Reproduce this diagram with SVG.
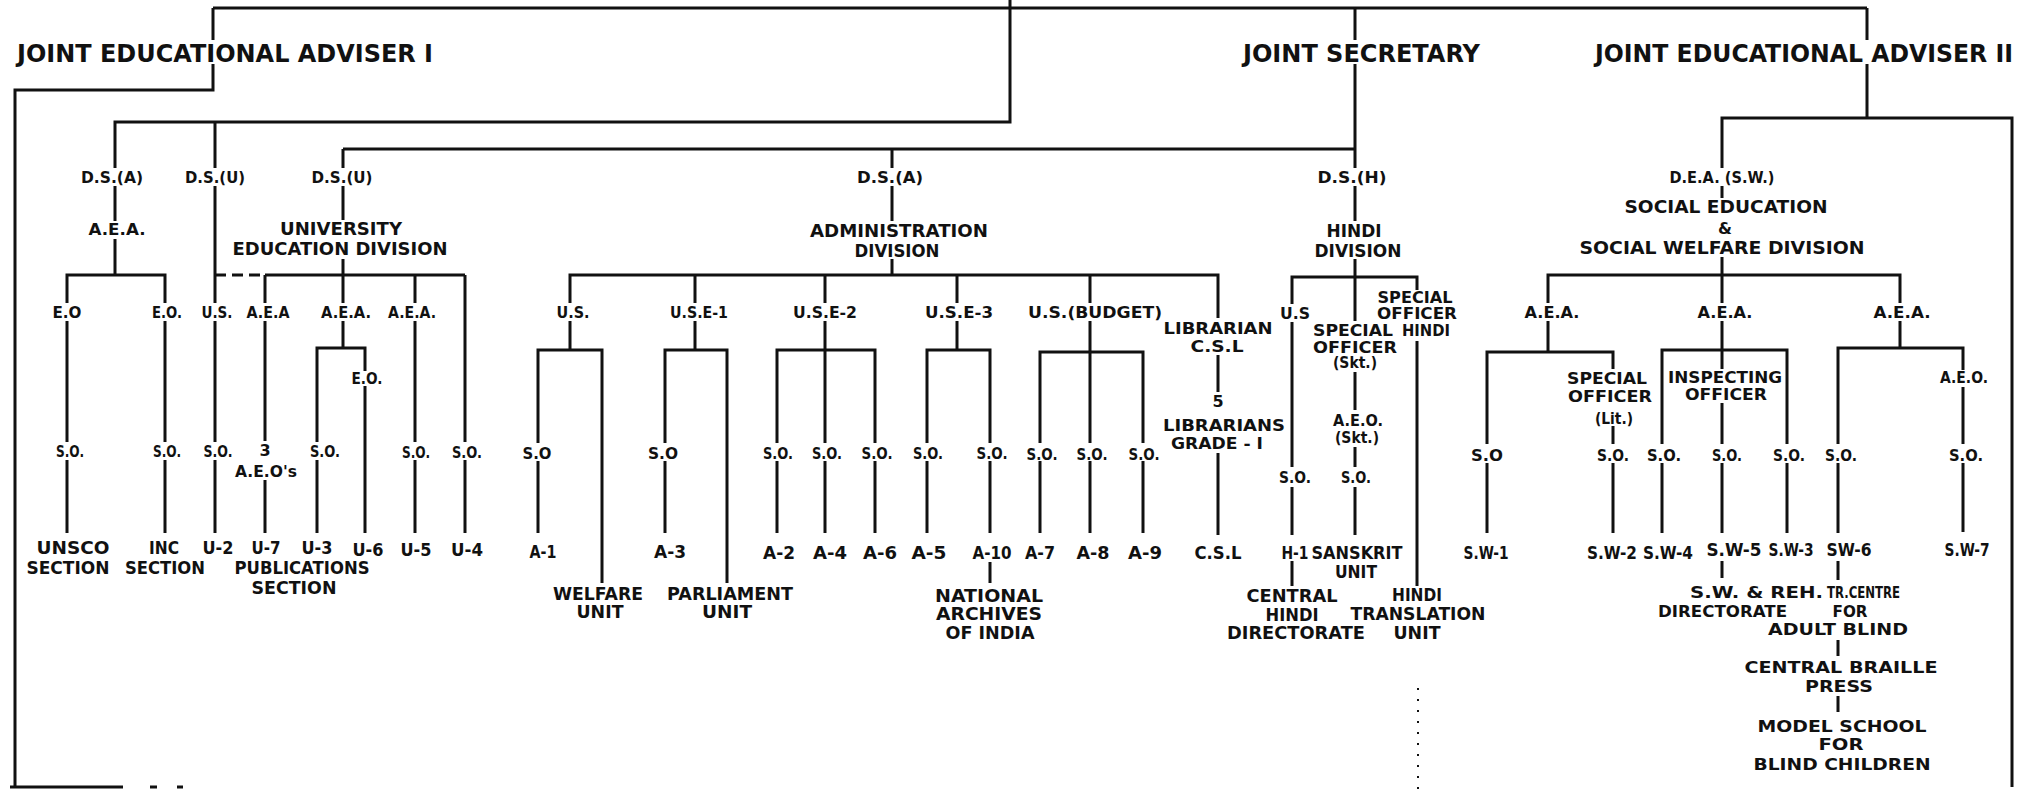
<svg xmlns="http://www.w3.org/2000/svg" width="2037" height="791" viewBox="0 0 2037 791">
<style>
.c{stroke:#111;stroke-width:3;fill:none;stroke-linejoin:miter}
.d{stroke:#111;stroke-width:3;fill:none;stroke-dasharray:11 6}
.dt{stroke:#111;stroke-width:2;fill:none;stroke-dasharray:2 9}
text{font-family:"DejaVu Sans","Liberation Sans",sans-serif;font-weight:bold;fill:#111;text-anchor:middle}
.h{font-size:25px;text-anchor:start}
.m{font-size:16px}
.b{font-size:17px}
.st{text-anchor:start}
</style>
<rect width="2037" height="791" fill="#fff"/>
<g id="connectors">
<path class="c" d="M213 8 H1867 M213 8 V40 M213 64 V90 H15 V787"/>
<path class="c" d="M1010 0 V122 H115 V168 M215 122 V168"/>
<path class="c" d="M1355 8 V40 M1355 64 V168 M343 149 H1355 M343 149 V168 M892 149 V168"/>
<path class="c" d="M1867 8 V40 M1867 64 V118 H1722 V168 M1867 118 H2012 V787"/>
<path class="c" d="M115 186 V221 M115 239 V275 M67 303 V275 H165 V303 M67 321 V442 M67 460 V533 M165 321 V442 M165 460 V533"/>
<path class="c" d="M215 186 V303 M215 321 V442 M215 460 V533"/>
<path class="d" d="M215 275 H265"/>
<path class="c" d="M343 186 V220 M343 259 V303 M265 275 H465 M265 275 V303 M265 321 V441 M265 480 V533 M343 321 V348 H317 V442 M343 348 H365 V371 M365 386 V533 M317 460 V533 M415 275 V303 M415 321 V442 M415 460 V533 M465 275 V442 M465 460 V533"/>
<path class="c" d="M892 186 V221 M892 259 V275 M570 303 V275 H1218 V318"/>
<path class="c" d="M570 321 V350 M538 443 V350 H602 V583 M538 461 V533"/>
<path class="c" d="M695 275 V303 M695 321 V350 M665 443 V350 H727 V583 M665 461 V533"/>
<path class="c" d="M825 275 V303 M825 321 V443 M777 443 V350 H875 V443 M777 461 V533 M825 461 V533 M875 461 V533"/>
<path class="c" d="M957 275 V303 M957 321 V350 M927 443 V350 H990 V443 M927 461 V533 M990 461 V533 M990 562 V583"/>
<path class="c" d="M1090 275 V303 M1090 321 V443 M1040 443 V352 H1143 V443 M1040 461 V533 M1090 461 V533 M1143 461 V533"/>
<path class="c" d="M1218 355 V392 M1218 453 V535"/>
<path class="c" d="M1355 186 V221 M1355 259 V321 M1292 304 V277 H1417 V290 M1292 322 V467 M1292 487 V535 M1292 561 V586 M1355 372 V410 M1355 447 V467 M1355 487 V535 M1417 341 V586"/>
<path class="dt" d="M1418 688 V791"/>
<path class="c" d="M1722 186 V198 M1722 257 V303 M1548 303 V275 H1900 V303"/>
<path class="c" d="M1548 321 V352 M1487 444 V352 H1613 V369 M1487 463 V533 M1613 426 V444 M1613 463 V533"/>
<path class="c" d="M1722 321 V369 M1662 444 V350 H1787 V444 M1722 403 V444 M1662 463 V533 M1722 463 V533 M1787 463 V533 M1722 561 V578"/>
<path class="c" d="M1900 321 V348 M1838 444 V348 H1963 V370 M1838 463 V533 M1963 387 V444 M1963 463 V532 M1838 561 V580 M1838 640 V656 M1838 696 V712"/>
<path class="c" d="M10 787 H123 M150 787 H157 M177 787 H183"/>
</g>
<g id="n_jea1"><text class="h" x="17" y="62" textLength="416" lengthAdjust="spacingAndGlyphs">JOINT EDUCATIONAL ADVISER I</text></g>
<g id="n_js"><text class="h" x="1243" y="62" textLength="237" lengthAdjust="spacingAndGlyphs">JOINT SECRETARY</text></g>
<g id="n_jea2"><text class="h" x="1595" y="62" textLength="418" lengthAdjust="spacingAndGlyphs">JOINT EDUCATIONAL ADVISER II</text></g>

<g id="n_dsa1"><text class="m" x="112" y="183" textLength="62" lengthAdjust="spacingAndGlyphs">D.S.(A)</text></g>
<g id="n_dsu1"><text class="m" x="215" y="183" textLength="60" lengthAdjust="spacingAndGlyphs">D.S.(U)</text></g>
<g id="n_dsu2"><text class="m" x="342" y="183" textLength="61" lengthAdjust="spacingAndGlyphs">D.S.(U)</text></g>
<g id="n_dsa2"><text class="m" x="890" y="183" textLength="66" lengthAdjust="spacingAndGlyphs">D.S.(A)</text></g>
<g id="n_dsh"><text class="m" x="1352" y="183" textLength="69" lengthAdjust="spacingAndGlyphs">D.S.(H)</text></g>
<g id="n_dea"><text class="m" x="1722" y="183" textLength="105" lengthAdjust="spacingAndGlyphs">D.E.A. (S.W.)</text></g>

<g id="n_aea1"><text class="m" x="117" y="235" textLength="57" lengthAdjust="spacingAndGlyphs">A.E.A.</text></g>
<g id="n_univ"><text class="b" x="341" y="235" textLength="122" lengthAdjust="spacingAndGlyphs">UNIVERSITY</text><text class="b" x="340" y="255" textLength="215" lengthAdjust="spacingAndGlyphs">EDUCATION DIVISION</text></g>
<g id="n_admin"><text class="b" x="899" y="237" textLength="178" lengthAdjust="spacingAndGlyphs">ADMINISTRATION</text><text class="b" x="897" y="257" textLength="85" lengthAdjust="spacingAndGlyphs">DIVISION</text></g>
<g id="n_hindi"><text class="b" x="1354" y="237" textLength="55" lengthAdjust="spacingAndGlyphs">HINDI</text><text class="b" x="1358" y="257" textLength="87" lengthAdjust="spacingAndGlyphs">DIVISION</text></g>
<g id="n_social"><text class="b" x="1726" y="213" textLength="203" lengthAdjust="spacingAndGlyphs">SOCIAL EDUCATION</text><text class="m" x="1725" y="234">&amp;</text><text class="b" x="1722" y="254" textLength="285" lengthAdjust="spacingAndGlyphs">SOCIAL WELFARE DIVISION</text></g>

<g id="n_eo1"><text class="m" x="67" y="318" textLength="29" lengthAdjust="spacingAndGlyphs">E.O</text></g>
<g id="n_eo2"><text class="m" x="167" y="318" textLength="30" lengthAdjust="spacingAndGlyphs">E.O.</text></g>
<g id="n_us1"><text class="m" x="217" y="318" textLength="31" lengthAdjust="spacingAndGlyphs">U.S.</text></g>
<g id="n_aea2"><text class="m" x="268" y="318" textLength="43" lengthAdjust="spacingAndGlyphs">A.E.A</text></g>
<g id="n_aea3"><text class="m" x="346" y="318" textLength="50" lengthAdjust="spacingAndGlyphs">A.E.A.</text></g>
<g id="n_aea4"><text class="m" x="412" y="318" textLength="48" lengthAdjust="spacingAndGlyphs">A.E.A.</text></g>
<g id="n_us2"><text class="m" x="573" y="318" textLength="33" lengthAdjust="spacingAndGlyphs">U.S.</text></g>
<g id="n_use1"><text class="m" x="699" y="318" textLength="58" lengthAdjust="spacingAndGlyphs">U.S.E-1</text></g>
<g id="n_use2"><text class="m" x="825" y="318" textLength="64" lengthAdjust="spacingAndGlyphs">U.S.E-2</text></g>
<g id="n_use3"><text class="m" x="959" y="318" textLength="68" lengthAdjust="spacingAndGlyphs">U.S.E-3</text></g>
<g id="n_usb"><text class="m" x="1095" y="318" textLength="134" lengthAdjust="spacingAndGlyphs">U.S.(BUDGET)</text></g>
<g id="n_lib"><text class="m" x="1218" y="334" textLength="109" lengthAdjust="spacingAndGlyphs">LIBRARIAN</text><text class="m" x="1217" y="352" textLength="53" lengthAdjust="spacingAndGlyphs">C.S.L</text></g>
<g id="n_ush"><text class="m" x="1295" y="319" textLength="30" lengthAdjust="spacingAndGlyphs">U.S</text></g>
<g id="n_spskt"><text class="m" x="1353" y="336" textLength="80" lengthAdjust="spacingAndGlyphs">SPECIAL</text><text class="m" x="1355" y="353" textLength="84" lengthAdjust="spacingAndGlyphs">OFFICER</text><text class="m" x="1355" y="368" textLength="44" lengthAdjust="spacingAndGlyphs">(Skt.)</text></g>
<g id="n_sphindi"><text class="m" x="1415" y="303" textLength="75" lengthAdjust="spacingAndGlyphs">SPECIAL</text><text class="m" x="1417" y="319" textLength="80" lengthAdjust="spacingAndGlyphs">OFFICER</text><text class="m" x="1426" y="336" textLength="48" lengthAdjust="spacingAndGlyphs">HINDI</text></g>
<g id="n_aea5"><text class="m" x="1552" y="318" textLength="55" lengthAdjust="spacingAndGlyphs">A.E.A.</text></g>
<g id="n_aea6"><text class="m" x="1725" y="318" textLength="55" lengthAdjust="spacingAndGlyphs">A.E.A.</text></g>
<g id="n_aea7"><text class="m" x="1902" y="318" textLength="57" lengthAdjust="spacingAndGlyphs">A.E.A.</text></g>

<g id="n_eo3"><text class="m" x="367" y="384" textLength="31" lengthAdjust="spacingAndGlyphs">E.O.</text></g>
<g id="n_split"><text class="m" x="1607" y="384" textLength="80" lengthAdjust="spacingAndGlyphs">SPECIAL</text><text class="m" x="1610" y="402" textLength="84" lengthAdjust="spacingAndGlyphs">OFFICER</text><text class="m" x="1614" y="424" textLength="38" lengthAdjust="spacingAndGlyphs">(Lit.)</text></g>
<g id="n_insp"><text class="m" x="1725" y="383" textLength="114" lengthAdjust="spacingAndGlyphs">INSPECTING</text><text class="m" x="1726" y="400" textLength="82" lengthAdjust="spacingAndGlyphs">OFFICER</text></g>
<g id="n_aeo"><text class="m" x="1964" y="383" textLength="48" lengthAdjust="spacingAndGlyphs">A.E.O.</text></g>
<g id="n_lib5"><text class="m" x="1218" y="407">5</text><text class="m" x="1224" y="431" textLength="122" lengthAdjust="spacingAndGlyphs">LIBRARIANS</text><text class="m" x="1217" y="449" textLength="92" lengthAdjust="spacingAndGlyphs">GRADE - I</text></g>
<g id="n_aeoskt"><text class="m" x="1358" y="426" textLength="50" lengthAdjust="spacingAndGlyphs">A.E.O.</text><text class="m" x="1357" y="443" textLength="44" lengthAdjust="spacingAndGlyphs">(Skt.)</text></g>

<g id="n_so1"><text class="m" x="70" y="457" textLength="28" lengthAdjust="spacingAndGlyphs">S.O.</text></g>
<g id="n_so2"><text class="m" x="167" y="457" textLength="28" lengthAdjust="spacingAndGlyphs">S.O.</text></g>
<g id="n_so3"><text class="m" x="218" y="457" textLength="29" lengthAdjust="spacingAndGlyphs">S.O.</text></g>
<g id="n_aeos"><text class="m" x="265" y="456">3</text><text class="m" x="266" y="477" textLength="62" lengthAdjust="spacingAndGlyphs">A.E.O's</text></g>
<g id="n_so4"><text class="m" x="325" y="457" textLength="30" lengthAdjust="spacingAndGlyphs">S.O.</text></g>
<g id="n_so5"><text class="m" x="416" y="458" textLength="28" lengthAdjust="spacingAndGlyphs">S.O.</text></g>
<g id="n_so6"><text class="m" x="467" y="458" textLength="30" lengthAdjust="spacingAndGlyphs">S.O.</text></g>
<g id="n_so7"><text class="m" x="537" y="459" textLength="29" lengthAdjust="spacingAndGlyphs">S.O</text></g>
<g id="n_so8"><text class="m" x="663" y="459" textLength="30" lengthAdjust="spacingAndGlyphs">S.O</text></g>
<g id="n_so9"><text class="m" x="778" y="459" textLength="30" lengthAdjust="spacingAndGlyphs">S.O.</text></g>
<g id="n_so10"><text class="m" x="827" y="459" textLength="30" lengthAdjust="spacingAndGlyphs">S.O.</text></g>
<g id="n_so11"><text class="m" x="877" y="459" textLength="31" lengthAdjust="spacingAndGlyphs">S.O.</text></g>
<g id="n_so12"><text class="m" x="928" y="459" textLength="30" lengthAdjust="spacingAndGlyphs">S.O.</text></g>
<g id="n_so13"><text class="m" x="992" y="459" textLength="31" lengthAdjust="spacingAndGlyphs">S.O.</text></g>
<g id="n_so14"><text class="m" x="1042" y="460" textLength="31" lengthAdjust="spacingAndGlyphs">S.O.</text></g>
<g id="n_so15"><text class="m" x="1092" y="460" textLength="31" lengthAdjust="spacingAndGlyphs">S.O.</text></g>
<g id="n_so16"><text class="m" x="1144" y="460" textLength="31" lengthAdjust="spacingAndGlyphs">S.O.</text></g>
<g id="n_so17"><text class="m" x="1295" y="483" textLength="32" lengthAdjust="spacingAndGlyphs">S.O.</text></g>
<g id="n_so18"><text class="m" x="1356" y="483" textLength="30" lengthAdjust="spacingAndGlyphs">S.O.</text></g>
<g id="n_so19"><text class="m" x="1487" y="461" textLength="32" lengthAdjust="spacingAndGlyphs">S.O</text></g>
<g id="n_so20"><text class="m" x="1613" y="461" textLength="32" lengthAdjust="spacingAndGlyphs">S.O.</text></g>
<g id="n_so21"><text class="m" x="1664" y="461" textLength="34" lengthAdjust="spacingAndGlyphs">S.O.</text></g>
<g id="n_so22"><text class="m" x="1727" y="461" textLength="30" lengthAdjust="spacingAndGlyphs">S.O.</text></g>
<g id="n_so23"><text class="m" x="1789" y="461" textLength="32" lengthAdjust="spacingAndGlyphs">S.O.</text></g>
<g id="n_so24"><text class="m" x="1841" y="461" textLength="32" lengthAdjust="spacingAndGlyphs">S.O.</text></g>
<g id="n_so25"><text class="m" x="1966" y="461" textLength="34" lengthAdjust="spacingAndGlyphs">S.O.</text></g>

<g id="n_unsco"><text class="b" x="73" y="554" textLength="73" lengthAdjust="spacingAndGlyphs">UNSCO</text><text class="b" x="68" y="574" textLength="83" lengthAdjust="spacingAndGlyphs">SECTION</text></g>
<g id="n_inc"><text class="b" x="164" y="554" textLength="30" lengthAdjust="spacingAndGlyphs">INC</text><text class="b" x="165" y="574" textLength="80" lengthAdjust="spacingAndGlyphs">SECTION</text></g>
<g id="n_u2"><text class="b" x="218" y="554" textLength="31" lengthAdjust="spacingAndGlyphs">U-2</text></g>
<g id="n_u7"><text class="b" x="266" y="554" textLength="29" lengthAdjust="spacingAndGlyphs">U-7</text></g>
<g id="n_u3"><text class="b" x="317" y="554" textLength="31" lengthAdjust="spacingAndGlyphs">U-3</text></g>
<g id="n_pub"><text class="b" x="302" y="574" textLength="135" lengthAdjust="spacingAndGlyphs">PUBLICATIONS</text><text class="b" x="294" y="594" textLength="85" lengthAdjust="spacingAndGlyphs">SECTION</text></g>
<g id="n_u6"><text class="b" x="368" y="556" textLength="31" lengthAdjust="spacingAndGlyphs">U-6</text></g>
<g id="n_u5"><text class="b" x="416" y="556" textLength="31" lengthAdjust="spacingAndGlyphs">U-5</text></g>
<g id="n_u4"><text class="b" x="467" y="556" textLength="32" lengthAdjust="spacingAndGlyphs">U-4</text></g>
<g id="n_a1"><text class="b" x="543" y="558" textLength="27" lengthAdjust="spacingAndGlyphs">A-1</text></g>
<g id="n_a3"><text class="b" x="670" y="558" textLength="32" lengthAdjust="spacingAndGlyphs">A-3</text></g>
<g id="n_a2"><text class="b" x="779" y="559" textLength="32" lengthAdjust="spacingAndGlyphs">A-2</text></g>
<g id="n_a4"><text class="b" x="830" y="559" textLength="34" lengthAdjust="spacingAndGlyphs">A-4</text></g>
<g id="n_a6"><text class="b" x="880" y="559" textLength="34" lengthAdjust="spacingAndGlyphs">A-6</text></g>
<g id="n_a5"><text class="b" x="929" y="559" textLength="35" lengthAdjust="spacingAndGlyphs">A-5</text></g>
<g id="n_a10"><text class="b" x="992" y="559" textLength="39" lengthAdjust="spacingAndGlyphs">A-10</text></g>
<g id="n_a7"><text class="b" x="1040" y="559" textLength="30" lengthAdjust="spacingAndGlyphs">A-7</text></g>
<g id="n_a8"><text class="b" x="1093" y="559" textLength="33" lengthAdjust="spacingAndGlyphs">A-8</text></g>
<g id="n_a9"><text class="b" x="1145" y="559" textLength="34" lengthAdjust="spacingAndGlyphs">A-9</text></g>
<g id="n_csl"><text class="b" x="1218" y="559" textLength="47" lengthAdjust="spacingAndGlyphs">C.S.L</text></g>
<g id="n_h1"><text class="b" x="1295" y="559" textLength="27" lengthAdjust="spacingAndGlyphs">H-1</text></g>
<g id="n_skt"><text class="b" x="1357" y="559" textLength="91" lengthAdjust="spacingAndGlyphs">SANSKRIT</text><text class="b" x="1356" y="578" textLength="42" lengthAdjust="spacingAndGlyphs">UNIT</text></g>
<g id="n_sw1"><text class="b" x="1486" y="559" textLength="45" lengthAdjust="spacingAndGlyphs">S.W-1</text></g>
<g id="n_sw2"><text class="b" x="1612" y="559" textLength="50" lengthAdjust="spacingAndGlyphs">S.W-2</text></g>
<g id="n_sw4"><text class="b" x="1668" y="559" textLength="50" lengthAdjust="spacingAndGlyphs">S.W-4</text></g>
<g id="n_sw5"><text class="b" x="1734" y="556" textLength="55" lengthAdjust="spacingAndGlyphs">S.W-5</text></g>
<g id="n_sw3"><text class="b" x="1791" y="556" textLength="45" lengthAdjust="spacingAndGlyphs">S.W-3</text></g>
<g id="n_sw6"><text class="b" x="1849" y="556" textLength="45" lengthAdjust="spacingAndGlyphs">SW-6</text></g>
<g id="n_sw7"><text class="b" x="1967" y="556" textLength="45" lengthAdjust="spacingAndGlyphs">S.W-7</text></g>

<g id="n_welfare"><text class="b" x="598" y="600" textLength="90" lengthAdjust="spacingAndGlyphs">WELFARE</text><text class="b" x="600" y="618" textLength="47" lengthAdjust="spacingAndGlyphs">UNIT</text></g>
<g id="n_parl"><text class="b" x="730" y="600" textLength="126" lengthAdjust="spacingAndGlyphs">PARLIAMENT</text><text class="b" x="727" y="618" textLength="50" lengthAdjust="spacingAndGlyphs">UNIT</text></g>
<g id="n_nai"><text class="b" x="989" y="602" textLength="108" lengthAdjust="spacingAndGlyphs">NATIONAL</text><text class="b" x="989" y="620" textLength="106" lengthAdjust="spacingAndGlyphs">ARCHIVES</text><text class="b" x="990" y="639" textLength="89" lengthAdjust="spacingAndGlyphs">OF INDIA</text></g>
<g id="n_chd"><text class="b" x="1292" y="602" textLength="91" lengthAdjust="spacingAndGlyphs">CENTRAL</text><text class="b" x="1292" y="621" textLength="53" lengthAdjust="spacingAndGlyphs">HINDI</text><text class="b" x="1296" y="639" textLength="138" lengthAdjust="spacingAndGlyphs">DIRECTORATE</text></g>
<g id="n_htu"><text class="b" x="1417" y="601" textLength="50" lengthAdjust="spacingAndGlyphs">HINDI</text><text class="b" x="1418" y="620" textLength="135" lengthAdjust="spacingAndGlyphs">TRANSLATION</text><text class="b" x="1417" y="639" textLength="47" lengthAdjust="spacingAndGlyphs">UNIT</text></g>
<g id="n_swreh"><text class="m st" x="1690" y="598" textLength="133" lengthAdjust="spacingAndGlyphs">S.W. &amp; REH.</text><text class="m st" x="1658" y="617" textLength="129" lengthAdjust="spacingAndGlyphs">DIRECTORATE</text></g>
<g id="n_trc"><text class="m st" x="1827" y="598" textLength="73" lengthAdjust="spacingAndGlyphs">TR.CENTRE</text><text class="m" x="1850" y="617" textLength="35" lengthAdjust="spacingAndGlyphs">FOR</text><text class="m" x="1838" y="635" textLength="140" lengthAdjust="spacingAndGlyphs">ADULT BLIND</text></g>
<g id="n_cbp"><text class="m" x="1841" y="673" textLength="193" lengthAdjust="spacingAndGlyphs">CENTRAL BRAILLE</text><text class="m" x="1839" y="692" textLength="68" lengthAdjust="spacingAndGlyphs">PRESS</text></g>
<g id="n_msb"><text class="m" x="1842" y="732" textLength="169" lengthAdjust="spacingAndGlyphs">MODEL SCHOOL</text><text class="m" x="1841" y="750" textLength="45" lengthAdjust="spacingAndGlyphs">FOR</text><text class="m" x="1842" y="770" textLength="177" lengthAdjust="spacingAndGlyphs">BLIND CHILDREN</text></g>
</svg>
